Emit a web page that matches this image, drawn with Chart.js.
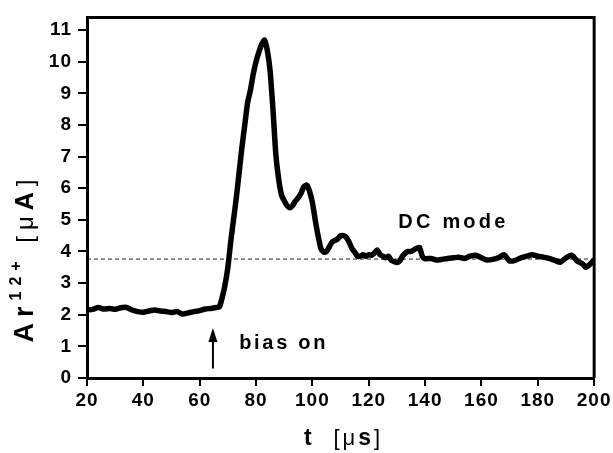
<!DOCTYPE html>
<html>
<head>
<meta charset="utf-8">
<script src="https://cdn.jsdelivr.net/npm/chart.js@4"></script>
<style>
  body { margin: 0; background: #fff; }
  #wrap { width: 613px; height: 453px; }
</style>
</head>
<body>
<div id="wrap"><canvas id="chart"></canvas></div>
<script>
// time in microseconds
const times = [
  20, 22, 24, 26, 28, 30, 32, 34, 36, 38, 40, 42, 44, 46, 48, 50, 52, 54, 56, 58,
  60, 62, 64, 66, 67, 68, 69, 70, 71, 72, 73, 74, 75, 76, 77, 78, 79, 80, 81, 82,
  83, 84, 85, 86, 87, 88, 89, 90, 91, 92, 93, 94, 95, 96, 97, 98, 99, 100, 101, 102,
  103, 104, 105, 106, 107, 108, 109, 110, 111, 112, 113, 114, 115, 116, 117, 118, 119, 120, 121, 122,
  123, 124, 125, 126, 127, 128, 129, 130, 131, 132, 133, 134, 135, 136, 137, 138, 139, 140, 142, 144,
  146, 148, 150, 152, 154, 156, 158, 160, 162, 164, 166, 168, 170, 172, 174, 176, 178, 180, 182, 184,
  186, 188, 190, 192, 194, 196, 197, 198, 200
];
// Ar12+ current in microampere
const current = [
  2.15, 2.17, 2.23, 2.18, 2.2, 2.17, 2.22, 2.23, 2.15, 2.1, 2.08, 2.12, 2.15, 2.12, 2.1, 2.07, 2.1, 2.02, 2.06, 2.1,
  2.13, 2.18, 2.2, 2.23, 2.25, 2.55, 2.95, 3.5, 4.3, 5.0, 5.7, 6.5, 7.3, 8.0, 8.7, 9.1, 9.6, 10.0, 10.3, 10.55,
  10.68, 10.35, 9.7, 8.5, 7.1, 6.3, 5.8, 5.6, 5.45, 5.38, 5.45, 5.6, 5.7, 5.85, 6.05, 6.1, 5.9, 5.55, 5.0, 4.5,
  4.1, 3.98, 4.0, 4.15, 4.3, 4.35, 4.4, 4.5, 4.5, 4.45, 4.3, 4.1, 3.98, 3.85, 3.85, 3.9, 3.85, 3.9, 3.88, 3.95,
  4.05, 3.9, 3.85, 3.8, 3.85, 3.72, 3.68, 3.65, 3.7, 3.85, 3.95, 4.0, 4.0, 4.05, 4.1, 4.13, 3.85, 3.77, 3.78, 3.73,
  3.75, 3.78, 3.8, 3.82, 3.78, 3.85, 3.88, 3.8, 3.73, 3.75, 3.8, 3.9, 3.7, 3.72, 3.8, 3.85, 3.9, 3.85, 3.82, 3.78,
  3.72, 3.66, 3.8, 3.88, 3.7, 3.6, 3.5, 3.55, 3.73
];
const dcLevel = 3.76;
const xTicks = [20, 40, 60, 80, 100, 120, 140, 160, 180, 200];
const yTicks = [0, 1, 2, 3, 4, 5, 6, 7, 8, 9, 10, 11];

// annotations (data units)
const biasArrow = { t: 64.7, from: 0.3, to: 1.58 };
const biasLabel = { t: 74, v: 1.15, text: "bias on" };
const dcLabel = { t: 130.5, v: 4.95, text: "DC mode" };

const FONT = "'Liberation Sans', Arial, sans-serif";

function drawRuns(ctx, runs, x, y, spacing, align) {
  ctx.save();
  ctx.letterSpacing = spacing + "px";
  ctx.textBaseline = "alphabetic";
  ctx.textAlign = "left";
  ctx.fillStyle = "#000";
  let total = 0;
  runs.forEach(r => { ctx.font = r.font; total += ctx.measureText(r.text).width; });
  let cx = align === "center" ? x - total / 2 : x;
  runs.forEach(r => {
    ctx.font = r.font;
    ctx.fillText(r.text, cx, y + (r.dy || 0));
    cx += ctx.measureText(r.text).width;
  });
  ctx.restore();
}

const decorations = {
  id: "decorations",
  beforeDraw(chart) {
    chart.ctx.letterSpacing = "1px";
  },
  afterDatasetsDraw(chart) {
    const { ctx, chartArea: a } = chart;
    const xs = chart.scales.x, ys = chart.scales.y;
    ctx.save();
    ctx.letterSpacing = "0px";
    ctx.strokeStyle = "#000";
    ctx.lineWidth = 3;
    ctx.beginPath();
    ctx.moveTo(a.left, a.top);
    ctx.lineTo(a.right, a.top);
    ctx.lineTo(a.right, a.bottom);
    ctx.stroke();

    // arrow
    const ax = xs.getPixelForValue(biasArrow.t);
    const ay0 = ys.getPixelForValue(biasArrow.from);
    const ay1 = ys.getPixelForValue(biasArrow.to);
    ctx.lineWidth = 2;
    ctx.beginPath();
    ctx.moveTo(ax, ay0);
    ctx.lineTo(ax, ay1 + 10);
    ctx.stroke();
    ctx.fillStyle = "#000";
    ctx.beginPath();
    ctx.moveTo(ax, ay1);
    ctx.lineTo(ax - 4.5, ay1 + 14);
    ctx.lineTo(ax + 4.5, ay1 + 14);
    ctx.closePath();
    ctx.fill();
    ctx.restore();

    const bold = "bold 20px " + FONT;
    drawRuns(ctx, [{ text: biasLabel.text, font: bold }],
      xs.getPixelForValue(biasLabel.t), ys.getPixelForValue(biasLabel.v) + 7, 2.7, "left");
    drawRuns(ctx, [{ text: dcLabel.text, font: bold }],
      xs.getPixelForValue(dcLabel.t), ys.getPixelForValue(dcLabel.v) + 7, 3.2, "left");

    // x axis title
    drawRuns(ctx, [
      { text: "t  ", font: "bold 23px " + FONT },
      { text: "[", font: "22px " + FONT },
      { text: "\u03bc", font: "22px " + FONT },
      { text: "s", font: "bold 23px " + FONT },
      { text: "]", font: "22px " + FONT }
    ], (a.left + a.right) / 2 + 3, 445, 3, "center");

    // y axis title
    ctx.save();
    ctx.translate(33, 258);
    ctx.rotate(-Math.PI / 2);
    drawRuns(ctx, [
      { text: "Ar", font: "bold 27px " + FONT },
      { text: "12+", font: "bold 16px " + FONT, dy: -12 },
      { text: " [", font: "24px " + FONT },
      { text: "\u03bc", font: "24px " + FONT },
      { text: "A", font: "bold 25px " + FONT },
      { text: "]", font: "24px " + FONT }
    ], 0, 0, 6, "center");
    ctx.restore();
  }
};

const tickFont = { family: FONT, size: 19, weight: "bold" };

new Chart(document.getElementById("chart"), {
  type: "line",
  data: {
    datasets: [
      {
        data: times.map((t, i) => ({ x: t, y: current[i] })),
        borderColor: "#000",
        borderWidth: 5.5,
        pointRadius: 0,
        tension: 0.2,
        borderJoinStyle: "round",
        borderCapStyle: "round",
        fill: false
      },
      {
        data: [{ x: xTicks[0], y: dcLevel }, { x: xTicks[xTicks.length - 1], y: dcLevel }],
        borderColor: "#222",
        borderWidth: 1,
        borderDash: [4, 3],
        pointRadius: 0,
        fill: false
      }
    ]
  },
  options: {
    responsive: true,
    maintainAspectRatio: false,
    animation: false,
    devicePixelRatio: 1,
    layout: { padding: { top: 11, right: 17, left: 0, bottom: 0 } },
    plugins: { legend: { display: false }, tooltip: { enabled: false } },
    scales: {
      x: {
        type: "linear",
        min: 20,
        max: 200,
        afterBuildTicks(s) { s.ticks = xTicks.map(v => ({ value: v })); },
        afterFit(s) { s.height = 75; },
        ticks: { color: "#000", font: tickFont, padding: 3, maxRotation: 0, autoSkip: false },
        grid: { drawOnChartArea: false, drawTicks: true, tickLength: 8, color: "#000", lineWidth: 2 },
        border: { color: "#000", width: 3 }
      },
      y: {
        min: 0,
        max: 11.4,
        afterBuildTicks(s) { s.ticks = yTicks.map(v => ({ value: v })); },
        afterFit(s) { s.width = 87; },
        ticks: { color: "#000", font: tickFont, padding: 6, autoSkip: false },
        grid: { drawOnChartArea: false, drawTicks: true, tickLength: 9, color: "#000", lineWidth: 2 },
        border: { color: "#000", width: 3 }
      }
    }
  },
  plugins: [decorations]
});
</script>
</body>
</html>
